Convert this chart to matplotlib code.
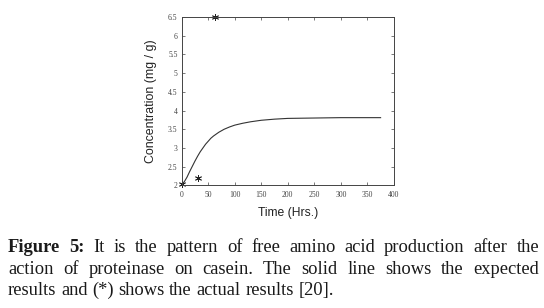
import matplotlib
matplotlib.use("Agg")
import matplotlib.pyplot as plt

# expected curve (solid line)
time_hrs = [0, 5, 10, 15, 20, 25, 30, 35, 40, 45, 50, 55, 60, 70, 80, 90, 100, 115, 130,
            150, 175, 200, 250, 300, 375]
conc = [2.03, 2.1, 2.22, 2.37, 2.51, 2.65, 2.78, 2.9, 3.0, 3.1, 3.18, 3.26, 3.32, 3.42,
        3.5, 3.56, 3.61, 3.66, 3.7, 3.74, 3.77, 3.79, 3.80, 3.81, 3.81]

# actual results (*)
obs_time = [0, 30, 62]
obs_conc = [2.04, 2.2, 6.5]

xticks = [0, 50, 100, 150, 200, 250, 300, 350, 400]
yticks = [2, 2.5, 3, 3.5, 4, 4.5, 5, 5.5, 6, 6.5]

caption_lines = [
    "It is the pattern of free amino acid production after the",
    "action of proteinase on casein. The solid line shows the expected",
    "results and (*) shows the actual results [20].",
]

fig = plt.figure(figsize=(5.44, 3.08), dpi=100)
ax = fig.add_axes([0.334, 0.398, 0.39, 0.547])

ax.plot(time_hrs, conc, color="#333333", lw=0.8)
ax.plot(obs_time, obs_conc, ls="none", marker=(6, 2, 0), ms=5, mew=0.6, color="#222222",
        clip_on=False)

ax.set_xlim(0, 400)
ax.set_ylim(2, 6.5)
ax.set_xticks(xticks)
ax.set_yticks(yticks)
ax.set_xticklabels([str(v) for v in xticks])
ax.set_yticklabels([("%g" % v) for v in yticks])
ax.tick_params(direction="in", length=2.5, width=0.5, top=True, right=True,
               labelsize=5.5, colors="#444444")
ax.tick_params(axis="x", pad=4)
ax.tick_params(axis="y", pad=3)
for lab in ax.get_xticklabels() + ax.get_yticklabels():
    lab.set_family("Liberation Serif")
for s in ax.spines.values():
    s.set_linewidth(0.7)
    s.set_color("#444444")

ax.set_xlabel("Time (Hrs.)", fontsize=8.7, family="Liberation Sans", labelpad=6,
              color="#222222")
ax.set_ylabel("Concentration (mg / g)", fontsize=8.9, family="Liberation Sans", labelpad=8,
              color="#222222")

# justified caption
fig.canvas.draw()
renderer = fig.canvas.get_renderer()
W, H = fig.bbox.width, fig.bbox.height
x_left, x_right = 8, 539
line_y = [252, 274, 295]
fs = 13.3
color = "#1a1a1a"

for i, line in enumerate(caption_lines):
    words = line.split(" ")
    styles = ["normal"] * len(words)
    if i == 0:
        words = ["Figure", "5:"] + words
        styles = ["bold", "bold"] + styles
    texts = []
    widths = []
    for w, st in zip(words, styles):
        t = fig.text(0, 1 - line_y[i] / H, w, fontsize=fs, family="Liberation Serif",
                     weight=st, color=color, va="baseline", ha="left")
        bb = t.get_window_extent(renderer)
        texts.append(t)
        widths.append(bb.width)
    if i < len(caption_lines) - 1:
        gap = (x_right - x_left - sum(widths)) / (len(words) - 1)
    else:
        gap = fs * 0.25 * 100 / 72
    x = x_left
    for t, w in zip(texts, widths):
        t.set_x(x / W)
        x += w + gap

fig.savefig("out.png", dpi=100)
